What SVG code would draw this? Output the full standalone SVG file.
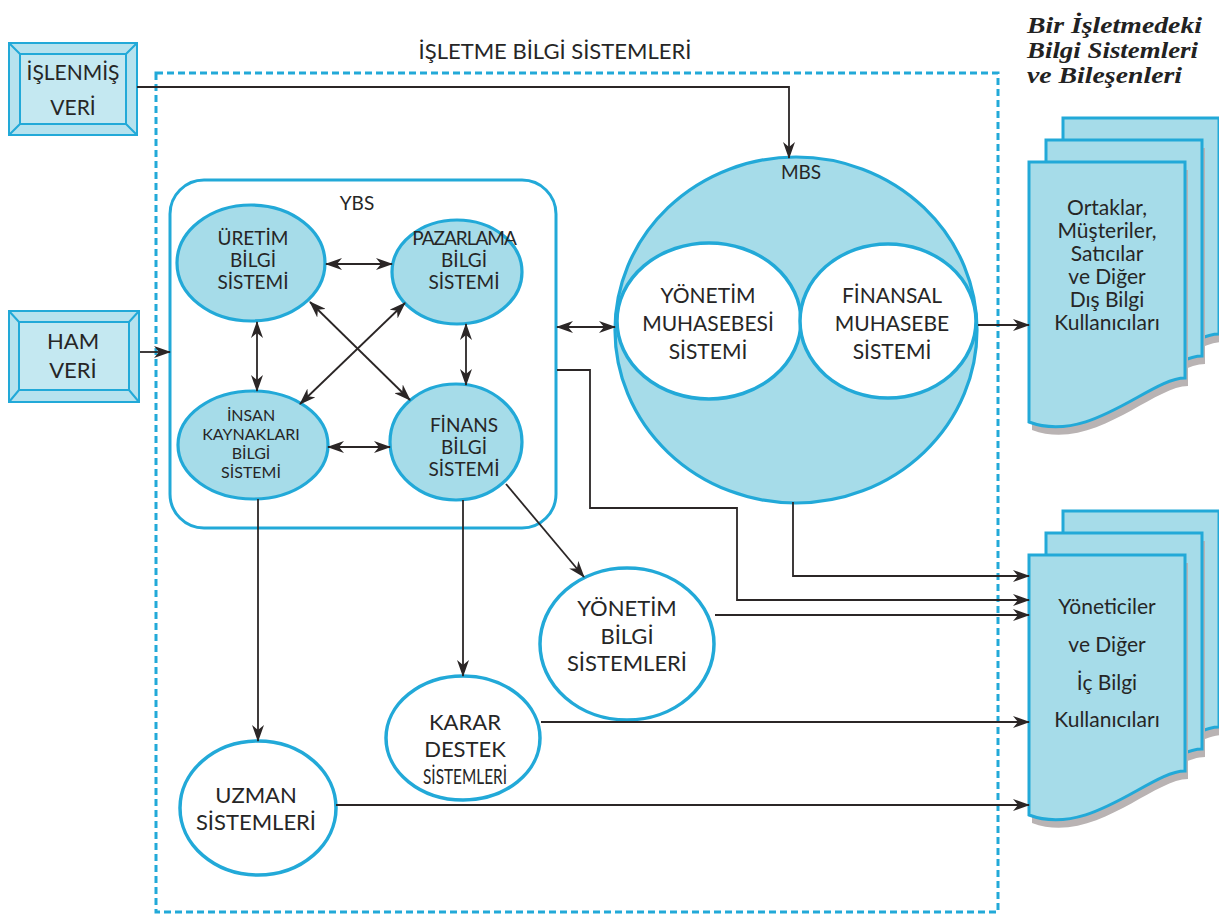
<svg xmlns="http://www.w3.org/2000/svg" xmlns:xlink="http://www.w3.org/1999/xlink" width="1219" height="917" viewBox="0 0 1219 917">
<style>
.t{font-family:Lato,"Open Sans","DejaVu Sans",sans-serif;fill:#262626;text-anchor:middle}
.e{font-size:19px}.s18{font-size:22px}.s20{font-size:21px}.doc{font-size:21px}
.blue{fill:#a6dce9;stroke:#22a9d8;stroke-width:3.2}
.wc{fill:#ffffff;stroke:#22a9d8;stroke-width:3.5}
.ln{fill:none;stroke:#2b2626;stroke-width:1.8}
.page{fill:#a6dce9;stroke:#22a9d8;stroke-width:3}
.shadow{fill:#b9b3b3}
.bev{fill:#b6e2ee;stroke:#22a9d8;stroke-width:2}
.title{font-family:"Liberation Serif","DejaVu Serif",serif;font-style:italic;font-weight:bold;font-size:24px;fill:#222}
</style>
<defs>
<marker id="ah" markerUnits="userSpaceOnUse" markerWidth="17" markerHeight="12" refX="16" refY="6" orient="auto-start-reverse">
<path d="M0,0 L17,6 L0,12 L5,6 Z" fill="#2b2626"/>
</marker>
<path id="pg" d="M1029,162 H1185 V378 C1150,378 1090,445 1029,422 Z"/>
<g id="stack">
<use xlink:href="#pg" class="shadow" transform="translate(37,-36)"/>
<use xlink:href="#pg" class="page" transform="translate(34,-44)"/>
<use xlink:href="#pg" class="shadow" transform="translate(20,-14)"/>
<use xlink:href="#pg" class="page" transform="translate(17,-22)"/>
<use xlink:href="#pg" class="shadow" transform="translate(3,8)"/>
<use xlink:href="#pg" class="page"/>
</g>
</defs>
<rect width="1219" height="917" fill="#ffffff"/>

<g id="frame">
<rect x="156" y="73" width="842" height="839" fill="none" stroke="#22a9d8" stroke-width="3" stroke-dasharray="7 4"/>
<text class="t" font-size="22" x="555" y="59">İŞLETME BİLGİ SİSTEMLERİ</text>
</g>

<g id="caption">
<text class="title" x="1027" y="33" textLength="175" lengthAdjust="spacingAndGlyphs">Bir İşletmedeki</text>
<text class="title" x="1027" y="58" textLength="171" lengthAdjust="spacingAndGlyphs">Bilgi Sistemleri</text>
<text class="title" x="1027" y="83" textLength="155" lengthAdjust="spacingAndGlyphs">ve Bileşenleri</text>
</g>

<g id="islenmis-veri">
<rect class="bev" x="9" y="43" width="128" height="92" stroke-width="4"/>
<rect x="20" y="54" width="106" height="70" fill="#c4e8f1" stroke="#22a9d8" stroke-width="2"/>
<path d="M9,43 L20,54 M137,43 L126,54 M9,135 L20,124 M137,135 L126,124" stroke="#22a9d8" stroke-width="2"/>
<text class="t" font-size="21" x="73" y="80">İŞLENMİŞ</text>
<text class="t" font-size="21" x="73" y="115">VERİ</text>
</g>

<g id="ham-veri">
<rect class="bev" x="9" y="311" width="130" height="91" stroke-width="4"/>
<rect x="19" y="322" width="110" height="68" fill="#c4e8f1" stroke="#22a9d8" stroke-width="2"/>
<path d="M9,311 L19,322 M139,311 L129,322 M9,402 L19,390 M139,402 L129,390" stroke="#22a9d8" stroke-width="2"/>
<text class="t" font-size="22" x="73" y="349">HAM</text>
<text class="t" font-size="22" x="73" y="378">VERİ</text>
</g>

<g id="ybs">
<rect x="170" y="180" width="386" height="348" rx="34" fill="#ffffff" stroke="#22a9d8" stroke-width="3"/>
<text class="t" font-size="19" x="357" y="210">YBS</text>
</g>

<g id="uretim">
<ellipse class="blue" cx="251" cy="263" rx="74" ry="58"/>
<text class="t e" x="253" y="245">ÜRETİM</text>
<text class="t e" x="253" y="267">BİLGİ</text>
<text class="t e" x="253" y="289">SİSTEMİ</text>
</g>

<g id="pazarlama">
<ellipse class="blue" cx="457" cy="272" rx="65" ry="52"/>
<text class="t e" x="464" y="245" letter-spacing="-1">PAZARLAMA</text>
<text class="t e" x="464" y="267">BİLGİ</text>
<text class="t e" x="464" y="289">SİSTEMİ</text>
</g>

<g id="insan">
<ellipse class="blue" cx="253" cy="445" rx="75" ry="54"/>
<text class="t" font-size="16" x="251" y="421">İNSAN</text>
<text class="t" font-size="16" x="251" y="440">KAYNAKLARI</text>
<text class="t" font-size="16" x="251" y="459">BİLGİ</text>
<text class="t" font-size="16" x="251" y="478">SİSTEMİ</text>
</g>

<g id="finans">
<ellipse class="blue" cx="456" cy="442" rx="66" ry="58"/>
<text class="t e" x="464" y="432">FİNANS</text>
<text class="t e" x="464" y="454">BİLGİ</text>
<text class="t e" x="464" y="476">SİSTEMİ</text>
</g>

<g id="mbs">
<ellipse class="blue" cx="796" cy="330" rx="181" ry="173"/>
<text class="t" font-size="19" x="801" y="179">MBS</text>
</g>

<g id="yonetim-muhasebesi">
<ellipse class="wc" cx="709" cy="321" rx="92" ry="78" stroke-width="3"/>
<text class="t s20" x="708" y="303">YÖNETİM</text>
<text class="t s20" x="708" y="331">MUHASEBESİ</text>
<text class="t s20" x="708" y="359">SİSTEMİ</text>
</g>

<g id="finansal-muhasebe">
<ellipse class="wc" cx="888" cy="321" rx="88" ry="77" stroke-width="3"/>
<text class="t s20" x="892" y="303">FİNANSAL</text>
<text class="t s20" x="892" y="331">MUHASEBE</text>
<text class="t s20" x="892" y="359">SİSTEMİ</text>
</g>

<g id="yonetim-bilgi">
<ellipse class="wc" cx="627" cy="644" rx="87" ry="76"/>
<text class="t s18" x="627" y="616">YÖNETİM</text>
<text class="t s18" x="627" y="644">BİLGİ</text>
<text class="t s18" x="627" y="671">SİSTEMLERİ</text>
</g>

<g id="karar-destek">
<ellipse class="wc" cx="463" cy="738" rx="77" ry="62"/>
<text class="t s18" x="465" y="730">KARAR</text>
<text class="t s18" x="465" y="757">DESTEK</text>
<text class="t s18" x="465" y="784" textLength="84" lengthAdjust="spacingAndGlyphs">SİSTEMLERİ</text>
</g>

<g id="uzman">
<ellipse class="wc" cx="258" cy="808" rx="78" ry="67"/>
<text class="t s18" x="256" y="803">UZMAN</text>
<text class="t s18" x="256" y="830">SİSTEMLERİ</text>
</g>

<g id="dis-kullanicilar">
<use xlink:href="#stack"/>
<text class="t doc" x="1107" y="215">Ortaklar,</text>
<text class="t doc" x="1107" y="238">Müşteriler,</text>
<text class="t doc" x="1107" y="261">Satıcılar</text>
<text class="t doc" x="1107" y="284">ve Diğer</text>
<text class="t doc" x="1107" y="307">Dış Bilgi</text>
<text class="t doc" x="1107" y="330">Kullanıcıları</text>
</g>

<g id="ic-kullanicilar">
<use xlink:href="#stack" transform="translate(0,393)"/>
<text class="t doc" x="1107" y="614">Yöneticiler</text>
<text class="t doc" x="1107" y="652">ve Diğer</text>
<text class="t doc" x="1107" y="690">İç Bilgi</text>
<text class="t doc" x="1107" y="727">Kullanıcıları</text>
</g>

<g id="connectors">
<path class="ln" d="M137,87 H789 V158" marker-end="url(#ah)"/>
<path class="ln" d="M140,352 H170" marker-end="url(#ah)"/>
<path class="ln" d="M326,264 H392" marker-start="url(#ah)" marker-end="url(#ah)"/>
<path class="ln" d="M257,322 V391" marker-start="url(#ah)" marker-end="url(#ah)"/>
<path class="ln" d="M466,324 V385" marker-start="url(#ah)" marker-end="url(#ah)"/>
<path class="ln" d="M328,447 H390" marker-start="url(#ah)" marker-end="url(#ah)"/>
<path class="ln" d="M310,302 L410,400" marker-start="url(#ah)" marker-end="url(#ah)"/>
<path class="ln" d="M300,404 L405,303" marker-start="url(#ah)" marker-end="url(#ah)"/>
<path class="ln" d="M557,327 H615" marker-start="url(#ah)" marker-end="url(#ah)"/>
<path class="ln" d="M978,325 H1029" marker-end="url(#ah)"/>
<path class="ln" d="M557,370 H590 V508 H737 V600 H1029" marker-end="url(#ah)"/>
<path class="ln" d="M793,502 V576 H1029" marker-end="url(#ah)"/>
<path class="ln" d="M715,615 H1029" marker-end="url(#ah)"/>
<path class="ln" d="M541,722 H1029" marker-end="url(#ah)"/>
<path class="ln" d="M336,805 H1029" marker-end="url(#ah)"/>
<path class="ln" d="M258,499 V741" marker-end="url(#ah)"/>
<path class="ln" d="M463,500 V676" marker-end="url(#ah)"/>
<path class="ln" d="M506,484 L584,577" marker-end="url(#ah)"/>
</g>
</svg>
